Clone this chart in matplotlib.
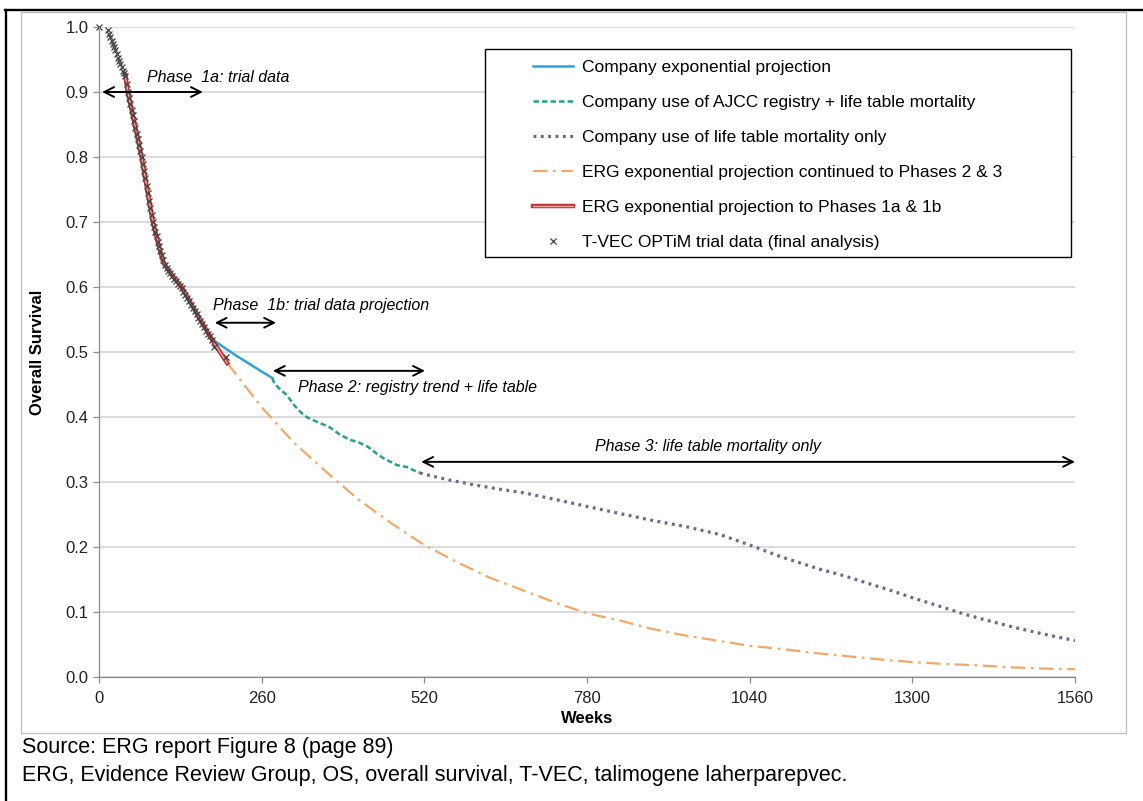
import matplotlib
matplotlib.use("Agg")
import matplotlib.pyplot as plt
import matplotlib.patheffects as pe
from matplotlib.patches import Rectangle
from matplotlib.lines import Line2D

plt.rcParams['font.family'] = ['Liberation Sans', 'DejaVu Sans']

# trial data (KM markers)
trial_weeks = [0, 14,
               16, 18, 20, 22, 24, 26, 28, 30, 32, 34, 36, 38, 40, 42,
               44, 46, 48, 50, 52, 54, 56, 58, 60, 62, 64, 66, 68,
               70, 72, 74, 76, 78, 80, 82, 84, 86,
               88, 90, 92, 94, 96, 98, 100, 102,
               105, 108, 111, 114, 117, 120, 123, 126, 129, 132, 135, 138, 141,
               144, 147, 150, 153, 156, 159, 162, 165, 168, 171, 174, 177, 180,
               184, 203]
trial_os = [1.000, 0.995,
            0.990, 0.985, 0.979, 0.974, 0.969, 0.964, 0.959, 0.953, 0.948, 0.943, 0.938, 0.933, 0.929, 0.924,
            0.912, 0.900, 0.891, 0.882, 0.873, 0.864, 0.855, 0.845, 0.836, 0.827, 0.818, 0.809, 0.800,
            0.789, 0.778, 0.767, 0.756, 0.744, 0.733, 0.722, 0.711, 0.700,
            0.693, 0.685, 0.678, 0.670, 0.663, 0.656, 0.649, 0.642,
            0.634, 0.629, 0.625, 0.621, 0.617, 0.613, 0.609, 0.605, 0.602, 0.598, 0.593, 0.588, 0.583,
            0.578, 0.573, 0.568, 0.563, 0.558, 0.553, 0.548, 0.543, 0.538, 0.533, 0.528, 0.524, 0.519,
            0.508, 0.492]

# ERG exponential projection, phases 1a & 1b
erg1_weeks = [42, 46, 57, 68, 77, 86, 95, 103, 117, 132, 148, 164, 180, 192, 205]
erg1_os = [0.926, 0.900, 0.850, 0.800, 0.750, 0.700, 0.665, 0.637, 0.618, 0.600, 0.573, 0.546, 0.520, 0.502, 0.483]

# ERG exponential continued to phases 2 & 3
erg2_weeks = [205, 260, 312, 364, 416, 468, 520, 572, 624, 676, 728, 780, 832, 884,
              936, 988, 1040, 1092, 1144, 1196, 1248, 1300, 1352, 1404, 1456, 1508, 1560]
erg2_os = [0.483, 0.415, 0.360, 0.315, 0.272, 0.236, 0.203, 0.177, 0.153, 0.134, 0.115, 0.098, 0.087, 0.074,
           0.064, 0.056, 0.048, 0.043, 0.037, 0.032, 0.027, 0.023, 0.020, 0.018, 0.015, 0.013, 0.012]

# company exponential projection
co_exp_weeks = [180, 200, 220, 240, 260, 277]
co_exp_os = [0.520, 0.507, 0.494, 0.482, 0.470, 0.460]

# company AJCC registry + life table
co_ajcc_weeks = [277, 280, 290, 300, 312, 325, 332, 340, 355, 369, 385, 401, 415, 430,
                 442, 454, 466, 476, 492, 503, 513]
co_ajcc_os = [0.460, 0.452, 0.442, 0.434, 0.418, 0.405, 0.400, 0.396, 0.390, 0.384, 0.373, 0.365, 0.361, 0.354,
              0.345, 0.337, 0.331, 0.326, 0.323, 0.318, 0.314]

# company life table only
co_lt_weeks = [513, 520, 560, 603, 640, 681, 730, 782, 830, 884, 940, 993, 1040, 1090,
               1148, 1190, 1226, 1260, 1300, 1340, 1382, 1420, 1460, 1510, 1560]
co_lt_os = [0.314, 0.312, 0.303, 0.295, 0.289, 0.283, 0.273, 0.262, 0.252, 0.241, 0.231, 0.219, 0.203, 0.185,
            0.167, 0.156, 0.145, 0.135, 0.122, 0.110, 0.097, 0.087, 0.077, 0.066, 0.056]

x_ticks = [0, 260, 520, 780, 1040, 1300, 1560]
y_ticks = [0.0, 0.1, 0.2, 0.3, 0.4, 0.5, 0.6, 0.7, 0.8, 0.9, 1.0]

fig = plt.figure(figsize=(11.43, 8.01), dpi=100)
ax = fig.add_axes([99 / 1143, 124 / 801, 976 / 1143, 650 / 801])

# frame lines around the figure cell
fig.add_artist(Line2D([5.5 / 1143, 5.5 / 1143], [0, 1 - 9.5 / 801], color='black', lw=1.7,
                      transform=fig.transFigure))
fig.add_artist(Line2D([4.5 / 1143, 1], [1 - 9.5 / 801, 1 - 9.5 / 801], color='black', lw=1.7,
                      transform=fig.transFigure))
fig.add_artist(Rectangle((21 / 1143, 68 / 801), 1105 / 1143, 721 / 801, transform=fig.transFigure,
                         fill=False, ec='#bdbdbd', lw=0.9))

ax.plot(co_exp_weeks, co_exp_os, color='#2aa5dc', lw=1.8, label='Company exponential projection')
ax.plot(co_ajcc_weeks, co_ajcc_os, color='#22a585', lw=1.8, dashes=(2.2, 1.2),
        label='Company use of AJCC registry + life table mortality')
ax.plot(co_lt_weeks, co_lt_os, color='#6c6890', lw=2.3, dashes=(0.9, 1.4),
        label='Company use of life table mortality only')
ax.plot(erg2_weeks, erg2_os, color='#f3a865', lw=1.6, dashes=(6.5, 2.5, 1.2, 2.5),
        label='ERG exponential projection continued to Phases 2 & 3')
ax.plot(erg1_weeks, erg1_os, color='#f1a3a3', lw=1.0,
        path_effects=[pe.Stroke(linewidth=3.2, foreground='#b83232'), pe.Normal()],
        label='ERG exponential projection to Phases 1a & 1b')
ax.plot(trial_weeks, trial_os, ls='none', marker='x', ms=5, mew=0.9, color='#444444', clip_on=False,
        label='T-VEC OPTiM trial data (final analysis)')

ax.set_xlim(0, 1560)
ax.set_ylim(0, 1.0)
ax.set_xticks(x_ticks)
ax.set_yticks(y_ticks)
ax.set_yticklabels(['%.1f' % v for v in y_ticks])
ax.grid(axis='y', color='#d2d2d2', lw=1.1)
ax.set_axisbelow(True)
for s in ['top', 'right']:
    ax.spines[s].set_visible(False)
for s in ['left', 'bottom']:
    ax.spines[s].set_color('#8c8c8c')
    ax.spines[s].set_linewidth(0.9)
ax.tick_params(axis='both', colors='#8c8c8c', length=4, width=0.9, labelsize=12, labelcolor='#222222')
ax.tick_params(axis='x', pad=6)
ax.set_xlabel('Weeks', fontsize=12, fontweight='bold', labelpad=4)
ax.set_ylabel('Overall Survival', fontsize=12, fontweight='bold')
ax.yaxis.set_label_coords(-0.055, 0.5)

# phase annotations
arrow = dict(arrowstyle='<->, head_length=0.7, head_width=0.35', lw=1.4, color='black',
             shrinkA=0, shrinkB=0)
ax.annotate('', xy=(5, 0.9), xytext=(166, 0.9), arrowprops=arrow, annotation_clip=False)
ax.annotate('', xy=(185, 0.545), xytext=(283, 0.545), arrowprops=arrow)
ax.annotate('', xy=(278, 0.471), xytext=(521, 0.471), arrowprops=arrow)
ax.annotate('', xy=(515, 0.331), xytext=(1560, 0.331), arrowprops=arrow, annotation_clip=False)
ax.text(77, 0.923, 'Phase  1a: trial data', style='italic', fontsize=11.5, va='center')
ax.text(182, 0.572, 'Phase  1b: trial data projection', style='italic', fontsize=11.5, va='center')
ax.text(318, 0.445, 'Phase 2: registry trend + life table', style='italic', fontsize=11.5, va='center')
ax.text(792, 0.354, 'Phase 3: life table mortality only', style='italic', fontsize=11.5, va='center')

# legend box
ax.add_patch(Rectangle((0.3955, 0.646), 0.6005, 0.32, transform=ax.transAxes, fc='white',
                       ec='black', lw=1.0, zorder=4.5))
ax.legend(loc='upper left', bbox_to_anchor=(0.4447, 0.950), frameon=False, fontsize=12.5,
          handlelength=2.3, handletextpad=0.5, labelspacing=1.15, borderpad=0, borderaxespad=0)

fig.text(22 / 1143, 1 - 753 / 801, 'Source: ERG report Figure 8 (page 89)', fontsize=15.5, va='baseline')
fig.text(22 / 1143, 1 - 781 / 801,
         'ERG, Evidence Review Group, OS, overall survival, T-VEC, talimogene laherparepvec.',
         fontsize=15.5, va='baseline')

fig.savefig('out.png', dpi=100)
